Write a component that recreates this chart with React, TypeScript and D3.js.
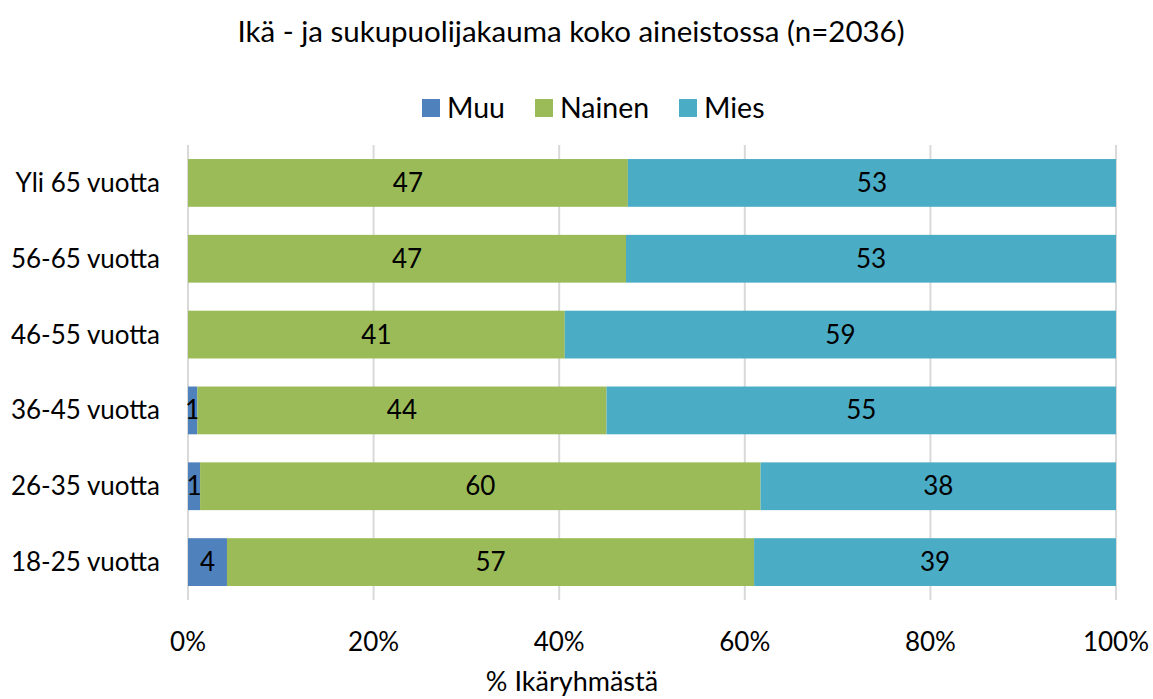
import React from "react";
import * as d3 from "d3";

const categories = ["Yli 65 vuotta", "56-65 vuotta", "46-55 vuotta", "36-45 vuotta", "26-35 vuotta", "18-25 vuotta"];
const seriesNames = ["Muu", "Nainen", "Mies"];
const muu = [0, 0, 0, 1.0, 1.3, 4.2];
const nainen = [47.4, 47.2, 40.6, 44.1, 60.4, 56.8];
const mies = [52.6, 52.8, 59.4, 54.9, 38.3, 39.0];
const colors = ["#4F81BD", "#9BBB59", "#4BACC6"];
const xTicks = [0, 20, 40, 60, 80, 100];
const title = "Ikä - ja sukupuolijakauma koko aineistossa (n=2036)";
const xTitle = "% Ikäryhmästä";

export default function App() {
  const W = 1153, H = 699;
  const left = 188, right = 1116, top = 145, bottom = 600;
  const font = "Lato, 'Open Sans', sans-serif";
  const x = d3.scaleLinear().domain([0, 100]).range([left, right]);
  const y = d3.scaleBand().domain(categories).range([top, bottom]).paddingInner(0.37).paddingOuter(0.185);
  const rows = categories.map((c, i) => ({ cat: c, Muu: muu[i], Nainen: nainen[i], Mies: mies[i] }));
  const stack = d3.stack<any>().keys(seriesNames)(rows);
  const legendX = [422, 535, 679];
  return (
    <svg width={W} height={H} style={{ position: "absolute", left: 0, top: 0 }} fontFamily={font}>
      <rect width={W} height={H} fill="#fff" />
      <text x={571} y={42} textAnchor="middle" fontSize={29.5} fill="#000">{title}</text>
      {seriesNames.map((s, i) => (
        <g key={s}>
          <rect x={legendX[i]} y={99} width={18} height={18} fill={colors[i]} />
          <text x={legendX[i] + 25} y={118} fontSize={28.5} fill="#000">{s}</text>
        </g>
      ))}
      {xTicks.map((t) => (
        <g key={t}>
          <line x1={x(t)} x2={x(t)} y1={top} y2={bottom} stroke="#d9d9d9" strokeWidth={2} />
          <text x={x(t)} y={651} textAnchor="middle" fontSize={26} fill="#000">{t}%</text>
        </g>
      ))}
      {stack.map((layer, si) => (
        <g key={seriesNames[si]}>
          {layer.map((d, i) => {
            const w = x(d[1]) - x(d[0]);
            if (w <= 0) return null;
            const yy = y(categories[i])!;
            const val = d[1] - d[0];
            return (
              <g key={i}>
                <rect x={x(d[0])} y={yy} width={w} height={y.bandwidth()} fill={colors[si]} />
                <text x={(x(d[0]) + x(d[1])) / 2} y={yy + y.bandwidth() / 2 + 9} textAnchor="middle" fontSize={26} fill="#000">
                  {Math.round(val)}
                </text>
              </g>
            );
          })}
        </g>
      ))}
      {categories.map((c) => (
        <text key={c} x={160} y={y(c)! + y.bandwidth() / 2 + 9} textAnchor="end" fontSize={26} fill="#000">{c}</text>
      ))}
      <text x={572} y={691} textAnchor="middle" fontSize={27} fill="#000">{xTitle}</text>
    </svg>
  );
}
